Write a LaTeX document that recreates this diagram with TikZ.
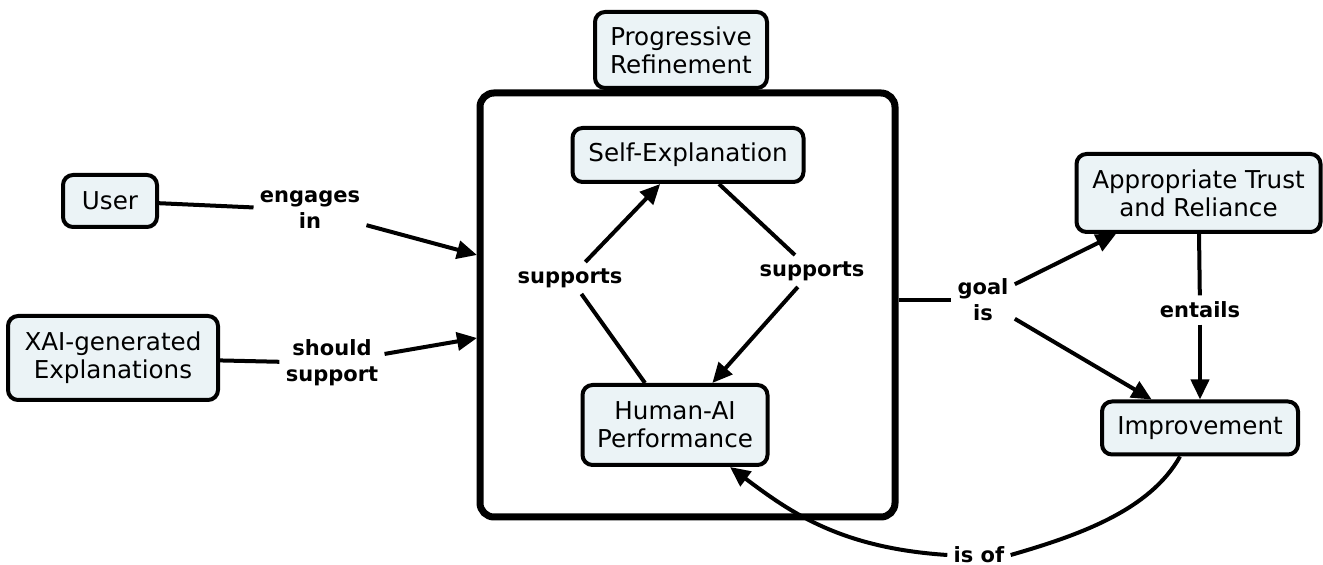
\documentclass[tikz,border=0pt]{standalone}
\usepackage{fontspec}
\setmainfont{DejaVu Sans}
\usetikzlibrary{arrows.meta}
\definecolor{boxfill}{RGB}{235,243,246}
\begin{document}
\begin{tikzpicture}[x=0.5pt,y=-0.5pt,
  concept/.style={draw, line width=2pt, rounded corners=5pt, fill=boxfill, align=center, inner sep=1pt, font=\fontsize{12.3}{14}\selectfont},
  linklbl/.style={align=center, inner sep=3pt, font=\bfseries\fontsize{10.5}{13}\selectfont},
  link/.style={line width=2pt},
  arr/.style={line width=2pt, -{Triangle[length=10pt,width=9pt]}},
  group/.style={draw, line width=3.5pt, rounded corners=7pt, inner sep=0pt}
]
\useasboundingbox (0,0) rectangle (1323,565);

% container
\node[group, minimum width=207.5pt, minimum height=212pt] (frame) at (687.5,305) {};

% concepts
\node[concept, minimum width=47pt, minimum height=26pt] (user) at (110,201) {User};
\node[concept, minimum width=105pt, minimum height=42pt] (xai) at (113,358) {XAI-generated\\Explanations};
\node[concept, minimum width=86pt, minimum height=38pt] (prog) at (681,50) {Progressive\\Refinement};
\node[concept, minimum width=115.5pt, minimum height=27pt] (self) at (688,155) {Self-Explanation};
\node[concept, minimum width=92.5pt, minimum height=40pt] (hai) at (675,425) {Human-AI\\Performance};
\node[concept, minimum width=122pt, minimum height=39pt] (trust) at (1198.5,193) {Appropriate Trust\\and Reliance};
\node[concept, minimum width=98pt, minimum height=26.5pt] (imp) at (1200,428) {Improvement};

% link labels
\node[linklbl] (eng) at (310,210) {engages\\in};
\node[linklbl] (should) at (332,363) {should\\support};
\node[linklbl] (supL) at (570,278) {supports};
\node[linklbl] (supR) at (812,271) {supports};
\node[linklbl] (goal) at (983,300) {goal\\is};
\node[linklbl] (ent) at (1200,310) {entails};
\node[linklbl] (isof) at (979,555) {is of};

% free ends on the container border
\coordinate (fin1) at (477,255);
\coordinate (fin2) at (477,338);

% connectors
\draw[link] (user) -- (eng);
\draw[arr] (eng) -- (fin1);
\draw[link] (xai) -- (should);
\draw[arr] (should) -- (fin2);

\draw[link] (self) -- (supR);
\draw[arr] (supR) -- (hai);
\draw[link] (hai) -- (supL);
\draw[arr] (supL) -- (self);

\draw[link] (frame.east |- goal) -- (goal);
\draw[arr] (goal) -- (trust);
\draw[arr] (goal) -- (imp);

\draw[link] (trust) -- (ent);
\draw[arr] (ent) -- (imp);

\draw[link] ([xshift=-10pt]imp.south) .. controls (1150,510) and (1080,535) .. (isof.east);
\draw[arr] (isof.west) .. controls (840,548) and (790,512) .. ([xshift=27.5pt]hai.south);
\end{tikzpicture}
\end{document}
